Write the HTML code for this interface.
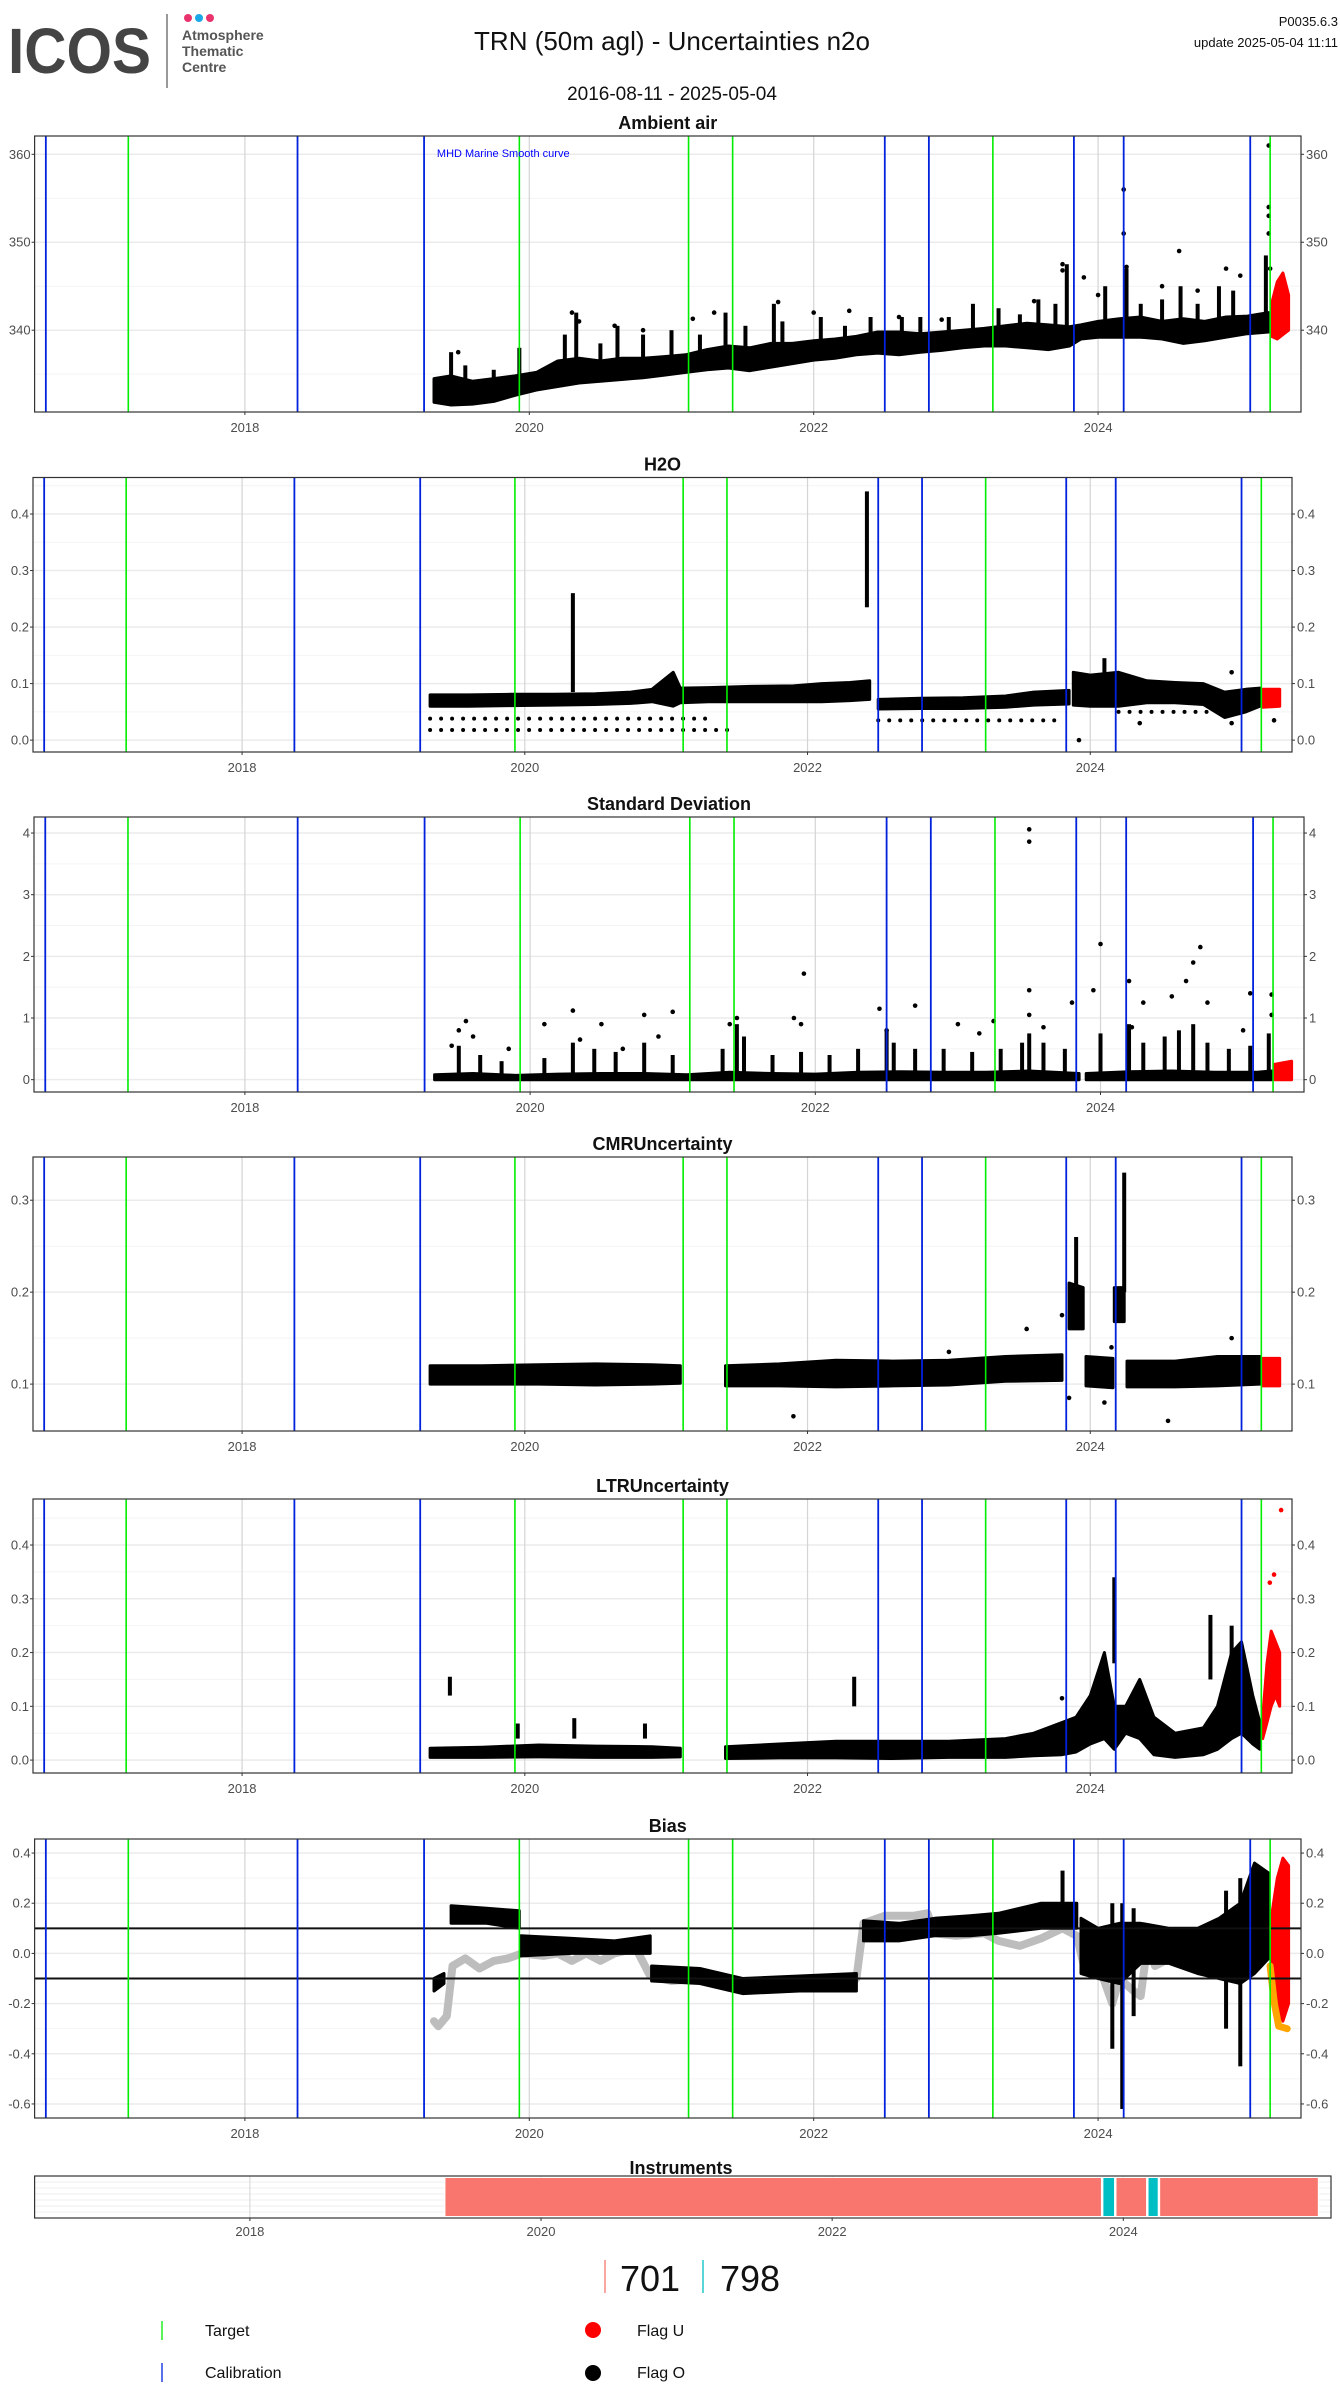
<!DOCTYPE html>
<html><head><meta charset="utf-8"><style>
html,body{margin:0;padding:0;background:#fff}
svg{display:block;font-family:"Liberation Sans",sans-serif}
</style></head><body>
<svg id="chart" width="1340" height="2400" viewBox="0 0 1340 2400" xmlns="http://www.w3.org/2000/svg">
<g>
 <text x="8" y="73" font-size="64" font-weight="bold" fill="#444" textLength="143" lengthAdjust="spacingAndGlyphs">ICOS</text>
 <line x1="167" y1="14" x2="167" y2="88" stroke="#555" stroke-width="1.2"/>
 <circle cx="188" cy="18" r="4" fill="#e8336d"/>
 <circle cx="199" cy="18" r="4" fill="#1aa7e8"/>
 <circle cx="210" cy="18" r="4" fill="#e8336d"/>
 <text x="182" y="40" font-size="14" font-weight="bold" fill="#555">Atmosphere</text>
 <text x="182" y="56" font-size="14" font-weight="bold" fill="#555">Thematic</text>
 <text x="182" y="72" font-size="14" font-weight="bold" fill="#555">Centre</text>
 <text x="672" y="50" font-size="26" text-anchor="middle" fill="#111">TRN  (50m agl) - Uncertainties n2o</text>
 <text x="672" y="100" font-size="19" text-anchor="middle" fill="#111">2016-08-11 - 2025-05-04</text>
 <text x="1338" y="26" font-size="13" text-anchor="end" fill="#111">P0035.6.3</text>
 <text x="1338" y="47" font-size="13" text-anchor="end" fill="#111">update  2025-05-04 11:11</text>
</g>
</svg>
<script>
// ---------- shared data ----------
const yearTicks = [2018, 2020, 2022, 2024];
const targetDates = [2017.18, 2019.93, 2021.12, 2021.43, 2023.26, 2025.21];
const calibDates = [2016.60, 2018.37, 2019.26, 2022.50, 2022.81, 2023.83, 2024.18, 2025.07];

// Ambient air
const ambT  = [2019.33,2019.45,2019.6,2019.75,2019.9,2020.05,2020.2,2020.35,2020.5,2020.65,2020.8,2020.95,2021.1,2021.25,2021.4,2021.55,2021.7,2021.85,2022.0,2022.15,2022.3,2022.45,2022.6,2022.75,2022.9,2023.05,2023.2,2023.35,2023.5,2023.65,2023.8,2023.88,2024.0,2024.15,2024.3,2024.45,2024.6,2024.75,2024.9,2025.05,2025.2];
const ambLo = [331.8,331.5,331.6,331.9,332.6,333.2,333.6,334.0,334.2,334.4,334.6,334.9,335.2,335.5,335.7,335.4,335.8,336.2,336.6,336.8,337.2,337.4,337.2,337.5,337.7,338.0,338.2,338.2,338.0,337.8,338.2,339.0,339.2,339.2,339.2,339.0,338.5,338.8,339.2,339.6,339.8];
const ambHi = [334.5,334.8,334.2,334.5,334.8,335.2,336.5,336.8,336.5,336.8,336.8,337.0,337.2,337.8,338.2,338.0,338.5,338.5,338.8,339.0,339.3,339.8,339.8,339.6,339.8,340.0,340.2,340.5,340.8,340.6,340.4,340.6,341.0,341.3,341.5,341.0,341.3,341.0,341.5,341.6,342.0];
const ambRedT  = [2025.22,2025.26,2025.30,2025.34];
const ambRedLo = [339.3,339.0,339.5,340.0];
const ambRedHi = [343.0,345.5,346.5,344.0];
const ambColT  = [2019.45,2019.55,2019.75,2019.93,2020.25,2020.33,2020.5,2020.62,2020.8,2021.0,2021.2,2021.38,2021.52,2021.72,2021.78,2022.05,2022.22,2022.4,2022.62,2022.75,2022.95,2023.12,2023.3,2023.45,2023.58,2023.7,2023.78,2024.05,2024.2,2024.3,2024.45,2024.58,2024.7,2024.85,2024.95,2025.18];
const ambColLo = [334,334,334,334,336,336,336,336,336,336,337,337,337,338,338,338,339,339,339,339,339,340,340,340,340,340,340,341,341,341,341,341,341,341,341,341];
const ambColHi = [337.5,336,335.5,338,339.5,342,338.5,340.5,339.5,340,339.5,342,340.5,343,341,341.5,340.5,341.5,341.5,341.5,341.5,343,342.5,341.8,343.5,343,347.5,345,347,343,343.5,345,343,345,344.5,348.5];
const ambPtsT = [2019.5,2020.3,2020.35,2020.6,2020.8,2021.15,2021.3,2021.75,2022.0,2022.25,2022.6,2022.9,2023.55,2023.75,2023.75,2023.9,2024.0,2024.18,2024.18,2024.2,2024.45,2024.57,2024.7,2024.9,2025.0,2025.2,2025.2,2025.2,2025.2,2025.21];
const ambPtsV = [337.5,342.0,341.0,340.5,340.0,341.3,342.0,343.2,342.0,342.2,341.5,341.2,343.3,347.5,346.8,346.0,344.0,356.0,351.0,347.2,345.0,349.0,344.5,347.0,346.2,361.0,354.0,353.0,351.0,347.0];

// H2O
const h2oT  = [2019.33,2019.6,2019.9,2020.2,2020.5,2020.75,2020.9,2021.05,2021.1,2021.3,2021.6,2021.9,2022.1,2022.3,2022.44,null,2022.5,2022.8,2023.1,2023.4,2023.6,2023.85,null,2023.88,2024.0,2024.2,2024.4,2024.6,2024.8,2024.95,2025.1,2025.2];
const h2oLo = [0.060,0.060,0.061,0.062,0.063,0.065,0.068,0.060,0.066,0.068,0.068,0.068,0.068,0.070,0.072,null,0.055,0.056,0.056,0.058,0.062,0.064,null,0.062,0.060,0.060,0.066,0.066,0.063,0.040,0.050,0.060];
const h2oHi = [0.080,0.080,0.081,0.081,0.082,0.085,0.090,0.120,0.092,0.093,0.095,0.096,0.100,0.102,0.105,null,0.072,0.074,0.075,0.078,0.085,0.088,null,0.120,0.115,0.120,0.105,0.102,0.100,0.085,0.090,0.092];
const h2oRedT  = [2025.22,2025.34];
const h2oRedLo = [0.058,0.060];
const h2oRedHi = [0.090,0.090];
const h2oColT  = [2020.34,2022.42,2024.1];
const h2oColLo = [0.085,0.235,0.1];
const h2oColHi = [0.26,0.44,0.145];
const h2oDotT0 = [2019.33,2019.33,2022.5,2024.2];
const h2oDotT1 = [2021.5,2021.3,2023.8,2024.9];
const h2oDotV  = [0.018,0.038,0.035,0.05];
const h2oPtsT = [2023.92,2024.35,2025.0,2025.3,2025.0];
const h2oPtsV = [0.0,0.03,0.12,0.035,0.03];

// Standard deviation
const sdT  = [2019.33,2019.6,2019.9,2020.2,2020.5,2020.8,2021.1,2021.4,2021.7,2022.0,2022.3,2022.6,2022.9,2023.2,2023.5,2023.85,null,2023.9,2024.2,2024.5,2024.8,2025.1,2025.2];
const sdLo = [0,0,0,0,0,0,0,0,0,0,0,0,0,0,0,0,null,0,0,0,0,0,0];
const sdHi = [0.08,0.1,0.07,0.09,0.1,0.1,0.08,0.12,0.1,0.09,0.12,0.13,0.12,0.12,0.14,0.1,null,0.1,0.13,0.14,0.12,0.12,0.14];
const sdRedT  = [2025.22,2025.34];
const sdRedLo = [0,0];
const sdRedHi = [0.25,0.3];
const sdColT  = [2019.5,2019.65,2019.8,2020.1,2020.3,2020.45,2020.6,2020.8,2021.0,2021.35,2021.45,2021.5,2021.7,2021.9,2022.1,2022.3,2022.5,2022.55,2022.7,2022.9,2023.1,2023.3,2023.45,2023.5,2023.6,2023.75,2024.0,2024.2,2024.3,2024.45,2024.55,2024.65,2024.75,2024.9,2025.05,2025.18];
const sdColLo = [0,0,0,0,0,0,0,0,0,0,0,0,0,0,0,0,0,0,0,0,0,0,0,0,0,0,0,0,0,0,0,0,0,0,0,0];
const sdColHi = [0.55,0.4,0.3,0.35,0.6,0.5,0.45,0.6,0.4,0.5,0.9,0.7,0.4,0.45,0.4,0.5,0.8,0.6,0.5,0.5,0.45,0.5,0.6,0.75,0.6,0.5,0.75,0.9,0.6,0.7,0.8,0.9,0.6,0.5,0.55,0.75];
const sdPtsT = [2019.45,2019.5,2019.55,2019.6,2019.85,2020.1,2020.3,2020.35,2020.5,2020.65,2020.8,2020.9,2021.0,2021.4,2021.45,2021.85,2021.9,2021.92,2022.45,2022.5,2022.7,2023.0,2023.15,2023.25,2023.5,2023.5,2023.5,2023.5,2023.6,2023.8,2023.95,2024.0,2024.2,2024.22,2024.3,2024.5,2024.6,2024.65,2024.7,2024.75,2025.0,2025.05,2025.2,2025.2];
const sdPtsV = [0.55,0.8,0.95,0.7,0.5,0.9,1.12,0.65,0.9,0.5,1.05,0.7,1.1,0.9,1.0,1.0,0.9,1.72,1.15,0.8,1.2,0.9,0.75,0.95,4.06,3.86,1.45,1.05,0.85,1.25,1.45,2.2,1.6,0.85,1.25,1.35,1.6,1.9,2.15,1.25,0.8,1.4,1.38,1.05];

// CMR uncertainty
const cmrT  = [2019.33,2019.7,2020.1,2020.5,2020.9,2021.1,null,2021.42,2021.8,2022.2,2022.6,2023.0,2023.4,2023.8,null,2023.85,2023.95,null,2023.97,2024.16,null,2024.17,2024.24,null,2024.26,2024.6,2024.9,2025.2];
const cmrLo = [0.100,0.100,0.100,0.099,0.100,0.101,null,0.098,0.098,0.097,0.098,0.099,0.103,0.104,null,0.160,0.160,null,0.098,0.096,null,0.168,0.168,null,0.097,0.097,0.098,0.100];
const cmrHi = [0.120,0.120,0.121,0.122,0.121,0.120,null,0.120,0.122,0.126,0.125,0.126,0.130,0.132,null,0.210,0.205,null,0.130,0.128,null,0.205,0.205,null,0.125,0.125,0.130,0.130];
const cmrRedT  = [2025.22,2025.34];
const cmrRedLo = [0.098,0.098];
const cmrRedHi = [0.128,0.128];
const cmrColT  = [2023.9,2024.24];
const cmrColLo = [0.2,0.2];
const cmrColHi = [0.26,0.33];
const cmrPtsT = [2021.9,2023.55,2023.8,2023.85,2024.1,2024.55,2023.0,2025.0,2024.15];
const cmrPtsV = [0.065,0.16,0.175,0.085,0.08,0.06,0.135,0.15,0.14];

// LTR uncertainty
const ltrT  = [2019.33,2019.7,2020.1,2020.5,2020.9,2021.1,null,2021.42,2021.8,2022.2,2022.6,2023.0,2023.4,2023.6,2023.8,2023.9,2024.0,2024.1,2024.17,2024.25,2024.35,2024.45,2024.6,2024.8,2024.9,2025.0,2025.07,2025.15,2025.2];
const ltrLo = [0.005,0.005,0.006,0.005,0.005,0.006,null,0.003,0.004,0.004,0.003,0.005,0.005,0.008,0.01,0.015,0.03,0.04,0.02,0.05,0.04,0.01,0.005,0.01,0.02,0.04,0.05,0.03,0.02];
const ltrHi = [0.022,0.024,0.028,0.026,0.025,0.022,null,0.025,0.03,0.035,0.035,0.035,0.04,0.05,0.07,0.08,0.12,0.2,0.1,0.1,0.15,0.08,0.05,0.06,0.1,0.2,0.22,0.12,0.07];
const ltrRedT  = [2025.22,2025.25,2025.28,2025.31,2025.34];
const ltrRedLo = [0.04,0.07,0.10,0.12,0.10];
const ltrRedHi = [0.08,0.18,0.24,0.22,0.20];
const ltrColT  = [2019.47,2022.33,2024.17,2024.85,2025.0,2019.95,2020.35,2020.85];
const ltrColLo = [0.12,0.1,0.18,0.15,0.17,0.04,0.04,0.04];
const ltrColHi = [0.155,0.155,0.34,0.27,0.25,0.068,0.078,0.068];
const ltrPtsT = [2023.8,2025.35,2025.3,2025.27];
const ltrPtsV = [0.115,0.465,0.345,0.33];

// Bias
const biasT  = [2019.33,2019.4,null,2019.45,2019.7,2019.93,null,2019.94,2020.3,2020.6,2020.85,null,2020.86,2021.2,2021.5,2021.9,2022.3,null,2022.35,2022.6,2022.85,2023.1,2023.3,2023.6,2023.85,null,2023.88,2024.0,2024.15,2024.3,2024.5,2024.7,2024.85,2025.0,2025.1,2025.2];
const biasLo = [-0.15,-0.12,null,0.12,0.12,0.10,null,-0.01,0.0,0.0,0.0,null,-0.11,-0.12,-0.16,-0.15,-0.15,null,0.05,0.05,0.07,0.07,0.08,0.10,0.10,null,-0.08,-0.1,-0.12,-0.04,-0.04,-0.08,-0.1,-0.12,-0.08,-0.02];
const biasHi = [-0.10,-0.08,null,0.19,0.18,0.17,null,0.07,0.06,0.05,0.07,null,-0.05,-0.06,-0.10,-0.09,-0.08,null,0.13,0.12,0.14,0.15,0.16,0.20,0.20,null,0.14,0.10,0.12,0.12,0.10,0.10,0.14,0.2,0.36,0.32];
const biasRedT  = [2025.22,2025.26,2025.30,2025.34];
const biasRedLo = [-0.05,-0.2,-0.27,-0.2];
const biasRedHi = [0.15,0.3,0.38,0.35];
const biasColT  = [2023.75,2024.1,2024.17,2024.25,2024.9,2025.0];
const biasColLo = [0.18,-0.38,-0.62,-0.25,-0.3,-0.45];
const biasColHi = [0.33,0.2,0.2,0.18,0.25,0.3];
const smoothT = [2019.33,2019.36,2019.42,2019.46,2019.55,2019.65,2019.75,2019.85,2019.95,2020.1,2020.2,2020.3,2020.4,2020.5,2020.6,2020.75,2020.85,2021.0,2021.2,2021.4,2021.6,2021.8,2022.0,2022.2,2022.3,2022.35,2022.5,2022.7,2022.8,2022.85,2023.0,2023.2,2023.3,2023.45,2023.6,2023.75,2023.85,2023.9,2024.0,2024.1,2024.15,2024.25,2024.3,2024.35,2024.4,2024.5,2024.6,2024.8,2025.0,2025.1,2025.18];
const smoothV = [-0.27,-0.29,-0.25,-0.05,-0.02,-0.06,-0.03,-0.02,0.0,-0.01,0.0,-0.03,0.0,-0.03,0.0,0.02,-0.09,-0.11,-0.1,-0.11,-0.12,-0.12,-0.11,-0.12,-0.1,0.12,0.15,0.15,0.16,0.08,0.07,0.08,0.05,0.03,0.06,0.1,0.07,-0.05,-0.04,-0.2,-0.1,-0.15,-0.17,0.05,-0.05,-0.02,-0.02,-0.08,-0.03,0.08,0.09];
const orangeT = [2025.21,2025.24,2025.27,2025.33];
const orangeV = [-0.05,-0.2,-0.29,-0.3];
const refLines = [0.1, -0.1];

// Instruments
const instStart = [2019.34,2023.86,2023.95,2024.17,2024.25];
const instEnd   = [2023.85,2023.94,2024.16,2024.24,2025.34];
const instId    = ['701','798','701','798','701'];
const instColors = {'701':'#F8766D','798':'#00BFC4'};

// ---------- rendering ----------
const NS = 'http://www.w3.org/2000/svg';
const svg = document.getElementById('chart');
const XMIN = 2016.521, XMAX = 2025.427;
function mk(tag, attrs, parent){ const e=document.createElementNS(NS,tag); for(const k in attrs) e.setAttribute(k,attrs[k]); (parent||svg).appendChild(e); return e; }

const panels = [
 {key:'ambient-air',title:'Ambient air',x0:34.6,x1:1301,y0:136,y1:412,vmin:330.7,vmax:362.08,ticks:[340,350,360],minor:[335,345,355],dec:0,
  T:ambT,Lo:ambLo,Hi:ambHi,RT:ambRedT,RLo:ambRedLo,RHi:ambRedHi,CT:ambColT,CLo:ambColLo,CHi:ambColHi,PT:ambPtsT,PV:ambPtsV},
 {key:'h2o',title:'H2O',x0:33,x1:1292,y0:477.5,y1:752,vmin:-0.021,vmax:0.4646,ticks:[0,0.1,0.2,0.3,0.4],minor:[0.05,0.15,0.25,0.35,0.45],dec:1,
  T:h2oT,Lo:h2oLo,Hi:h2oHi,RT:h2oRedT,RLo:h2oRedLo,RHi:h2oRedHi,CT:h2oColT,CLo:h2oColLo,CHi:h2oColHi,PT:h2oPtsT,PV:h2oPtsV,DT0:h2oDotT0,DT1:h2oDotT1,DV:h2oDotV},
 {key:'standard-deviation',title:'Standard Deviation',x0:34,x1:1304,y0:817,y1:1092,vmin:-0.2,vmax:4.26,ticks:[0,1,2,3,4],minor:[0.5,1.5,2.5,3.5],dec:0,
  T:sdT,Lo:sdLo,Hi:sdHi,RT:sdRedT,RLo:sdRedLo,RHi:sdRedHi,CT:sdColT,CLo:sdColLo,CHi:sdColHi,PT:sdPtsT,PV:sdPtsV},
 {key:'cmr-uncertainty',title:'CMRUncertainty',x0:33,x1:1292,y0:1157,y1:1431,vmin:0.049,vmax:0.347,ticks:[0.1,0.2,0.3],minor:[0.15,0.25],dec:1,
  T:cmrT,Lo:cmrLo,Hi:cmrHi,RT:cmrRedT,RLo:cmrRedLo,RHi:cmrRedHi,CT:cmrColT,CLo:cmrColLo,CHi:cmrColHi,PT:cmrPtsT,PV:cmrPtsV},
 {key:'ltr-uncertainty',title:'LTRUncertainty',x0:33,x1:1292,y0:1499,y1:1773,vmin:-0.024,vmax:0.4856,ticks:[0,0.1,0.2,0.3,0.4],minor:[0.05,0.15,0.25,0.35,0.45],dec:1,
  T:ltrT,Lo:ltrLo,Hi:ltrHi,RT:ltrRedT,RLo:ltrRedLo,RHi:ltrRedHi,CT:ltrColT,CLo:ltrColLo,CHi:ltrColHi,PT:ltrPtsT,PV:ltrPtsV,redPts:true},
 {key:'bias',title:'Bias',x0:34.6,x1:1301,y0:1839,y1:2118,vmin:-0.656,vmax:0.456,ticks:[-0.6,-0.4,-0.2,0,0.2,0.4],minor:[-0.5,-0.3,-0.1,0.1,0.3],dec:1,
  T:biasT,Lo:biasLo,Hi:biasHi,RT:biasRedT,RLo:biasRedLo,RHi:biasRedHi,CT:biasColT,CLo:biasColLo,CHi:biasColHi,bias:true}
];

function bandPolys(g, p, T, Lo, Hi, sx, sy, color, name){
  let seg=[];
  const flush=()=>{ if(seg.length<1){seg=[];return;}
    if(seg.length===1) seg.push([seg[0][0]+0.01,seg[0][1],seg[0][2]]);
    const up=seg.map(s=>sx(s[0]).toFixed(1)+','+sy(s[2]).toFixed(1));
    const dn=seg.slice().reverse().map(s=>sx(s[0]).toFixed(1)+','+sy(s[1]).toFixed(1));
    const poly=mk('polygon',{points:up.concat(dn).join(' '),fill:color,stroke:color,'stroke-width':3,'stroke-linejoin':'round'},g);
    
    
    seg=[]; };
  for(let i=0;i<T.length;i++){ if(T[i]===null){flush();continue;} seg.push([T[i],Lo[i],Hi[i]]); }
  flush();
}

panels.forEach(p=>{
  const g=mk('g',{});
  
  
  const sx=t=>p.x0+(t-XMIN)/(XMAX-XMIN)*(p.x1-p.x0);
  const sy=v=>p.y1-(v-p.vmin)/(p.vmax-p.vmin)*(p.y1-p.y0);
  const cx=(p.x0+p.x1)/2;
  const title=mk('text',{x:cx,y:p.y0-7,'font-size':18,'font-weight':'bold','text-anchor':'middle',fill:'#111'},g);
  title.textContent=p.title;
  
  
  const clipId='clip-'+p.key;
  const cp=mk('clipPath',{id:clipId},g); mk('rect',{x:p.x0,y:p.y0,width:p.x1-p.x0,height:p.y1-p.y0},cp);
  const plot=mk('g',{'clip-path':'url(#'+clipId+')'},g);
  
  
  p.minor.forEach(v=>{ const l=mk('line',{x1:p.x0,x2:p.x1,y1:sy(v),y2:sy(v),stroke:'#f4f4f4','stroke-width':1},plot);
    
     });
  p.ticks.forEach(v=>{ const l=mk('line',{x1:p.x0,x2:p.x1,y1:sy(v),y2:sy(v),stroke:'#ebebeb','stroke-width':1.5},plot);
    
     });
  yearTicks.forEach(y=>{ const l=mk('line',{x1:sx(y),x2:sx(y),y1:p.y0,y2:p.y1,stroke:'#d4d4d4','stroke-width':1.2},plot);
    
     });
  if(p.bias){
    const pts=smoothT.map((t,i)=>sx(t).toFixed(1)+','+sy(smoothV[i]).toFixed(1)).join(' ');
    const sm=mk('polyline',{points:pts,fill:'none',stroke:'#bdbdbd','stroke-width':8,'stroke-linejoin':'round','stroke-linecap':'round'},plot);
    
    
  }
  bandPolys(plot,p,p.T,p.Lo,p.Hi,sx,sy,'#000',p.key+'-flag-o-points');
  if(p.CT) p.CT.forEach((t,i)=>{ const r=mk('rect',{x:sx(t)-2,y:sy(p.CHi[i]),width:4,height:Math.max(2,sy(p.CLo[i])-sy(p.CHi[i])),fill:'#000'},plot);
    
     });
  if(p.DT0) p.DT0.forEach((t,i)=>{ const l=mk('line',{x1:sx(t),x2:sx(p.DT1[i]),y1:sy(p.DV[i]),y2:sy(p.DV[i]),stroke:'#000','stroke-width':4,'stroke-dasharray':'0 11','stroke-linecap':'round'},plot);
    
     });
  if(p.PT) p.PT.forEach((t,i)=>{ const red=p.redPts && t>2025.21; const c=mk('circle',{cx:sx(t),cy:sy(p.PV[i]),r:2.3,fill:red?'#ff0000':'#000'},plot);
    
     });
  bandPolys(plot,p,p.RT,p.RLo,p.RHi,sx,sy,'#ff0000',p.key+'-flag-u-points');
  if(p.bias){
    const op=orangeT.map((t,i)=>sx(t).toFixed(1)+','+sy(orangeV[i]).toFixed(1)).join(' ');
    const o=mk('polyline',{points:op,fill:'none',stroke:'#ffa500','stroke-width':7,'stroke-linejoin':'round','stroke-linecap':'round'},plot);
    
    
    refLines.forEach(v=>{ const l=mk('line',{x1:p.x0,x2:p.x1,y1:sy(v),y2:sy(v),stroke:'#111','stroke-width':2},plot);
      
       });
  }
  targetDates.forEach(t=>{ const l=mk('line',{x1:sx(t),x2:sx(t),y1:p.y0,y2:p.y1,stroke:'#00ee00','stroke-width':1.6},plot);
    
     });
  calibDates.forEach(t=>{ const l=mk('line',{x1:sx(t),x2:sx(t),y1:p.y0,y2:p.y1,stroke:'#0022dd','stroke-width':1.8},plot);
    
     });
  if(p.key==='ambient-air'){
    const m=mk('text',{x:sx(2019.28)+10,y:p.y0+21,'font-size':11,fill:'#0000ff'},g);
    m.textContent='MHD Marine Smooth curve';
    
    
  }
  const border=mk('rect',{x:p.x0,y:p.y0,width:p.x1-p.x0,height:p.y1-p.y0,fill:'none',stroke:'#333','stroke-width':1.2},g);
  
  
  p.ticks.forEach(v=>{
    const lab=p.dec?v.toFixed(p.dec):String(v);
    const y=sy(v);
    mk('line',{x1:p.x0-3,x2:p.x0,y1:y,y2:y,stroke:'#333'},g);
    mk('line',{x1:p.x1,x2:p.x1+3,y1:y,y2:y,stroke:'#333'},g);
    const a=mk('text',{x:p.x0-4,y:y+4.5,'font-size':13,'text-anchor':'end',fill:'#4d4d4d'},g); a.textContent=lab;
    
    
    const b=mk('text',{x:p.x1+5,y:y+4.5,'font-size':13,fill:'#4d4d4d'},g); b.textContent=lab;
    
    
  });
  yearTicks.forEach(yr=>{
    mk('line',{x1:sx(yr),x2:sx(yr),y1:p.y1,y2:p.y1+3,stroke:'#333'},g);
    const t=mk('text',{x:sx(yr),y:p.y1+20,'font-size':13,'text-anchor':'middle',fill:'#4d4d4d'},g); t.textContent=yr;
    
    
  });
});

// Instruments panel
(function(){
  const x0=34.6,x1=1331,y0=2176,y1=2218;
  const sx=t=>x0+(t-XMIN)/(XMAX-XMIN)*(x1-x0);
  const g=mk('g',{});
  
  
  for(let k=1;k<7;k++){ mk('line',{x1:x0,x2:x1,y1:y0+k*6,y2:y0+k*6,stroke:'#efefef'},g); }
  yearTicks.forEach(yr=>{ mk('line',{x1:sx(yr),x2:sx(yr),y1:y0,y2:y1,stroke:'#d4d4d4'},g); });
  instStart.forEach((s,i)=>{ const r=mk('rect',{x:sx(s),y:y0+1.5,width:sx(instEnd[i])-sx(s),height:y1-y0-3,fill:instColors[instId[i]],stroke:'#fff','stroke-width':1},g);
    
     });
  const b=mk('rect',{x:x0,y:y0,width:x1-x0,height:y1-y0,fill:'none',stroke:'#333','stroke-width':1.2},g);
  
  
  const t=mk('text',{x:681,y:2174,'font-size':18,'font-weight':'bold','text-anchor':'middle',fill:'#111'},g); t.textContent='Instruments';
  
  
  yearTicks.forEach(yr=>{ mk('line',{x1:sx(yr),x2:sx(yr),y1:y1,y2:y1+3,stroke:'#333'},g);
    const l=mk('text',{x:sx(yr),y:y1+18,'font-size':13,'text-anchor':'middle',fill:'#4d4d4d'},g); l.textContent=yr;
    
     });
})();

// Instrument legend
(function(){
  const g=mk('g',{});
  
  
  const items=[['701',605,620],['798',703,720]];
  items.forEach(it=>{
    mk('line',{x1:it[1],x2:it[1],y1:2260,y2:2293,stroke:instColors[it[0]],'stroke-width':1.3},g);
    const t=mk('text',{x:it[2],y:2291,'font-size':36,fill:'#111'},g); t.textContent=it[0];
    
    
  });
})();

// Bottom legend
(function(){
  const g=mk('g',{});
  
  
  const l1=mk('line',{x1:162,x2:162,y1:2321,y2:2340,stroke:'#00ee00','stroke-width':1.3},g);
  
  
  const t1=mk('text',{x:205,y:2336,'font-size':16,fill:'#111'},g); t1.textContent='Target';
  
  
  const l2=mk('line',{x1:162,x2:162,y1:2363,y2:2382,stroke:'#0022dd','stroke-width':1.3},g);
  
  
  const t2=mk('text',{x:205,y:2378,'font-size':16,fill:'#111'},g); t2.textContent='Calibration';
  
  
  const c1=mk('circle',{cx:593,cy:2330,r:8,fill:'#ff0000'},g);
  
  
  const t3=mk('text',{x:637,y:2336,'font-size':16,fill:'#111'},g); t3.textContent='Flag U';
  
  
  const c2=mk('circle',{cx:593,cy:2373,r:8,fill:'#000'},g);
  
  
  const t4=mk('text',{x:637,y:2378,'font-size':16,fill:'#111'},g); t4.textContent='Flag O';
  
  
})();
</script>
</body></html>
